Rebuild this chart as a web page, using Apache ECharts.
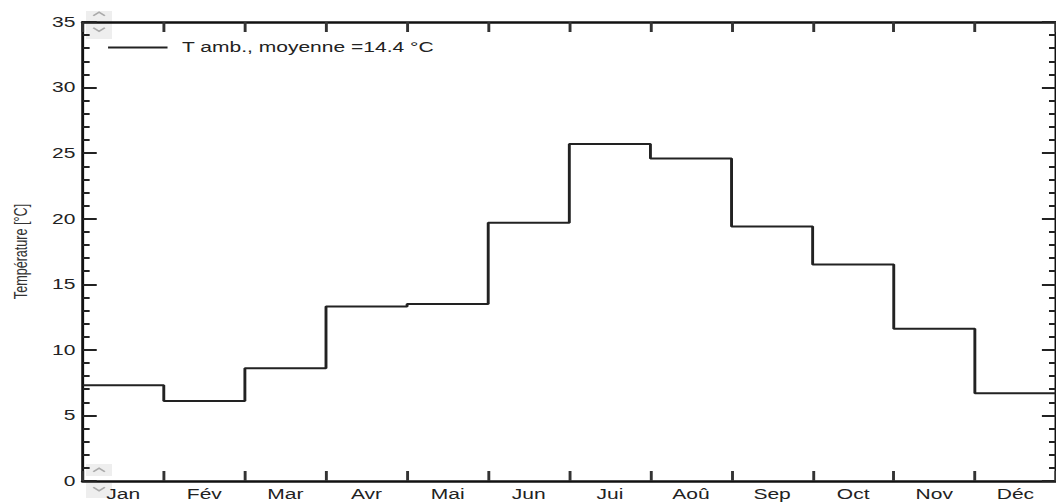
<!DOCTYPE html>
<html>
<head>
<meta charset="utf-8">
<script src="https://cdn.jsdelivr.net/npm/echarts@6/dist/echarts.min.js"></script>
<style>
  html, body { margin: 0; padding: 0; background: #fff; overflow: hidden; width: 1056px; height: 502px; }
  /* the chart is laid out on a narrower canvas and widened to the page */
  #chart { width: 728px; height: 502px; transform: scaleX(1.4505); transform-origin: 0 0; }
</style>
</head>
<body>
<div id="chart"></div>
<script>
// Monthly ambient temperature (°C)
const months = ['Jan', 'Fév', 'Mar', 'Avr', 'Mai', 'Jun', 'Jui', 'Aoû', 'Sep', 'Oct', 'Nov', 'Déc'];
const tAmb = [7.3, 6.1, 8.6, 13.3, 13.5, 19.7, 25.7, 24.6, 19.4, 16.5, 11.6, 6.7];
const yMin = 0, yMax = 35, yStep = 5;

const mean = tAmb.reduce((a, b) => a + b, 0) / tAmb.length;
const seriesName = 'T amb., moyenne =' + mean.toFixed(1) + ' °C';

// each month holds its value from its start to the start of the next month
const stepData = tAmb.map((v, i) => [i, v]);
stepData.push([months.length, tAmb[tAmb.length - 1]]);

const FONT = 'Liberation Sans, Arial, sans-serif';
const INK = '#111';

const chart = echarts.init(document.getElementById('chart'), null, { renderer: 'svg' });

// small spin buttons in the plot corners
function chevron(cx, cy, up) {
  const d = up ? -1.8 : 1.8;
  return {
    type: 'polyline', z: -5, silent: true,
    shape: { points: [[cx - 4, cy - d], [cx, cy + d], [cx + 4, cy - d]] },
    style: { stroke: '#aaaaaa', lineWidth: 1.4, fill: null }
  };
}
function box(x, y, w, h) {
  return { type: 'rect', z: -6, silent: true, shape: { x: x, y: y, width: w, height: h }, style: { fill: '#eeeeee' } };
}

chart.setOption({
  backgroundColor: '#ffffff',
  animation: false,
  grid: { left: 56, top: 22, width: 678.6, height: 459, containLabel: false },
  legend: {
    left: 69.5, top: 35,
    padding: 5,
    icon: 'rect',
    itemWidth: 41, itemHeight: 2,
    textStyle: { fontFamily: FONT, fontSize: 14.5, color: '#222', padding: [0, 0, 0, 5] },
    data: [seriesName]
  },
  graphic: [
    box(59.3, 11, 17.9, 28),
    chevron(68.3, 14, true),
    chevron(68.3, 29.5, false),
    box(59.3, 464, 17.9, 12),
    chevron(68.3, 470, true),
    box(59.3, 483, 17.9, 15),
    chevron(68.3, 489, false)
  ],
  xAxis: [
    {
      type: 'value', position: 'bottom', min: 0, max: months.length, interval: 1,
      axisLine: { show: true, onZero: false, lineStyle: { color: INK, width: 2.5 } },
      axisTick: { show: true, inside: true, length: 10, lineStyle: { color: '#333', width: 2 } },
      axisLabel: { show: false },
      splitLine: { show: false }
    },
    {
      type: 'value', position: 'top', min: 0, max: months.length, interval: 1,
      axisLine: { show: true, onZero: false, lineStyle: { color: INK, width: 2.5 } },
      axisTick: { show: true, inside: true, length: 10, lineStyle: { color: '#333', width: 2 } },
      axisLabel: { show: false },
      splitLine: { show: false }
    },
    {
      type: 'category', position: 'bottom', data: months, boundaryGap: true,
      axisLine: { show: false }, axisTick: { show: false },
      axisLabel: { show: true, margin: 6, fontFamily: FONT, fontSize: 14.5, color: '#222' },
      splitLine: { show: false }
    }
  ],
  yAxis: [
    {
      type: 'value', position: 'left', min: yMin, max: yMax, interval: yStep,
      name: 'Température [°C]', nameLocation: 'middle', nameGap: 36, nameRotate: 90,
      nameTextStyle: { fontFamily: FONT, fontSize: 12.6, color: '#333' },
      axisLine: { show: true, onZero: false, lineStyle: { color: INK, width: 2 } },
      axisTick: { show: true, inside: true, length: 9.7, lineStyle: { color: '#222', width: 2 } },
      minorTick: { show: true, splitNumber: 5, length: 4.8, lineStyle: { color: '#222', width: 2 } },
      axisLabel: { show: true, margin: 5, fontFamily: FONT, fontSize: 14.5, color: '#222' },
      splitLine: { show: false }
    },
    {
      type: 'value', position: 'right', min: yMin, max: yMax, interval: yStep,
      axisLine: { show: true, onZero: false, lineStyle: { color: INK, width: 2 } },
      axisTick: { show: true, inside: true, length: 9.7, lineStyle: { color: '#222', width: 2 } },
      minorTick: { show: true, splitNumber: 5, length: 4.8, lineStyle: { color: '#222', width: 2 } },
      axisLabel: { show: false },
      splitLine: { show: false }
    }
  ],
  series: [
    {
      name: seriesName,
      type: 'line',
      xAxisIndex: 0, yAxisIndex: 0,
      step: 'end',
      data: stepData,
      symbol: 'none', showSymbol: false,
      color: '#222',
      lineStyle: { color: '#222', width: 2 }
    }
  ]
});
</script>
</body>
</html>
